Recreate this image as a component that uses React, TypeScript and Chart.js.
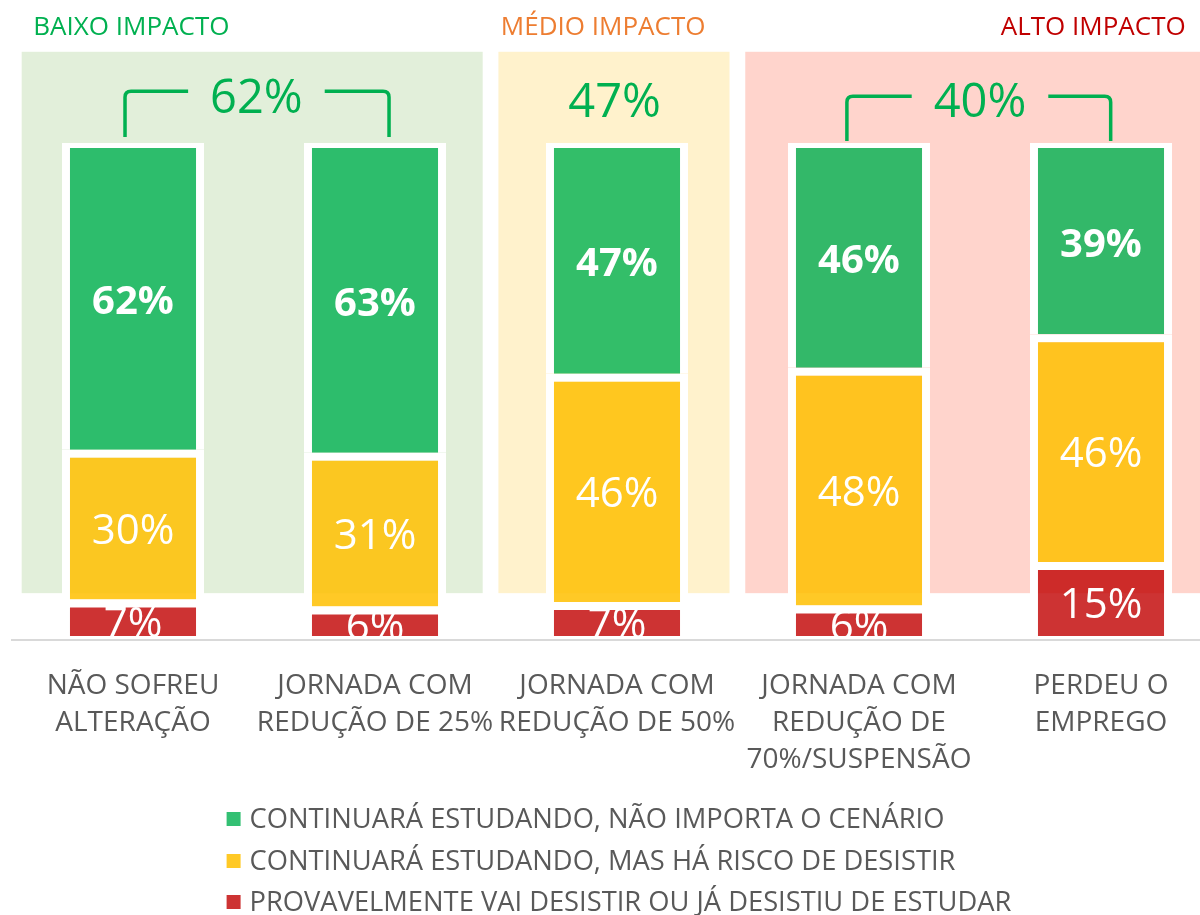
import React, { useEffect, useRef } from "react";
import { Chart, registerables } from "chart.js";

Chart.register(...registerables);

// ---------- data ----------
const categories: string[][] = [
  ["NÃO SOFREU", "ALTERAÇÃO"],
  ["JORNADA COM", "REDUÇÃO DE 25%"],
  ["JORNADA COM", "REDUÇÃO DE 50%"],
  ["JORNADA COM", "REDUÇÃO DE", "70%/SUSPENSÃO"],
  ["PERDEU O", "EMPREGO"],
];
const seriesNames = [
  "CONTINUARÁ ESTUDANDO, NÃO IMPORTA O CENÁRIO",
  "CONTINUARÁ ESTUDANDO, MAS HÁ RISCO DE DESISTIR",
  "PROVAVELMENTE VAI DESISTIR OU JÁ DESISTIU DE ESTUDAR",
];
const continuaValues = [62.2, 62.8, 46.8, 45.6, 38.8];
const riscoValues = [30.4, 31.2, 46.3, 48.2, 46.2];
const desistirValues = [7.4, 6.0, 6.9, 6.2, 15.0];

const groupTitles = ["BAIXO IMPACTO", "MÉDIO IMPACTO", "ALTO IMPACTO"];
const groupTotals = [62, 47, 40];
// group spans in category-index units
const groupStart = [-0.46, 1.51, 2.53];
const groupEnd = [1.445, 2.465, 4.8];
const bracketFrom = [-0.033, null, 2.95];
const bracketTo = [1.058, null, 4.04];
const totalCenter = [0.51, 1.99, 3.5];

// ---------- styles ----------
const FONT = "'Open Sans', 'Noto Sans', sans-serif";
const GREEN = "rgba(0,176,80,0.8)";
const YELLOW = "rgba(255,192,0,0.85)";
const RED = "rgba(192,0,0,0.8)";
const groupBg = ["#E2EFDA", "#FFF2CC", "#FFD4CC"];
const groupColor = ["#00B050", "#ED7D31", "#C00000"];
const TOTAL_COLOR = "#00B050";
const TEXT_GRAY = "#595959";

function catPx(scale: any, v: number) {
  const p0 = scale.getPixelForValue(0);
  const p1 = scale.getPixelForValue(1);
  return p0 + v * (p1 - p0);
}

const regionsPlugin = {
  id: "regions",
  beforeDatasetsDraw(chart: any) {
    const { ctx, scales } = chart;
    const x = scales.x;
    const y = scales.y;
    ctx.save();
    for (let g = 0; g < groupTitles.length; g++) {
      const x0 = catPx(x, groupStart[g]);
      const x1 = catPx(x, groupEnd[g]);
      const y0 = y.getPixelForValue(118.5);
      const y1 = y.getPixelForValue(8.7);
      ctx.fillStyle = groupBg[g];
      ctx.fillRect(x0, y0, x1 - x0, y1 - y0);
    }
    ctx.restore();
  },
};

const topBorders = [8, 8, 5];

const valueLabelsPlugin = {
  id: "valueLabels",
  afterDatasetsDraw(chart: any) {
    const { ctx, chartArea, scales } = chart;
    const zero = scales.y.getPixelForValue(0);
    ctx.save();
    ctx.beginPath();
    ctx.rect(chartArea.left, 0, chartArea.right - chartArea.left, zero);
    ctx.clip();
    ctx.fillStyle = "#ffffff";
    ctx.textAlign = "center";
    ctx.textBaseline = "middle";
    chart.data.datasets.forEach((ds: any, di: number) => {
      const meta = chart.getDatasetMeta(di);
      ctx.font = di === 2 ? `bold 40px ${FONT}` : `42px ${FONT}`;
      meta.data.forEach((el: any, i: number) => {
        const { x, y, base } = el.getProps(["x", "y", "base"], true);
        const top = y + topBorders[di];
        const cy = (top + base) / 2;
        ctx.fillText(Math.round(ds.data[i]) + "%", x, cy + (di === 2 ? 4 : 3));
      });
    });
    ctx.restore();
  },
};

const annotationsPlugin = {
  id: "annotations",
  afterDraw(chart: any) {
    const { ctx, scales } = chart;
    const x = scales.x;
    const y = scales.y;
    ctx.save();
    // group titles
    ctx.font = `26px ${FONT}`;
    ctx.textBaseline = "alphabetic";
    const titleY = y.getPixelForValue(118.5) - 17;
    const titleAnchors = [-0.412, 1.52, 4.35];
    const titleAlign = ["left", "left", "right"];
    for (let g = 0; g < groupTitles.length; g++) {
      ctx.fillStyle = groupColor[g];
      ctx.textAlign = titleAlign[g];
      ctx.fillText(groupTitles[g], catPx(x, titleAnchors[g]), titleY);
    }
    // totals + brackets
    ctx.font = `47px ${FONT}`;
    ctx.textAlign = "center";
    ctx.fillStyle = TOTAL_COLOR;
    ctx.strokeStyle = TOTAL_COLOR;
    ctx.lineWidth = 3.5;
    ctx.lineJoin = "round";
    for (let g = 0; g < groupTotals.length; g++) {
      const text = groupTotals[g] + "%";
      const cx = catPx(x, totalCenter[g]);
      const hasBracket = bracketFrom[g] !== null;
      const baseline = y.getPixelForValue(hasBracket && g === 0 ? 106.1 : 105.3);
      ctx.fillText(text, cx, baseline);
      if (hasBracket) {
        const w = ctx.measureText(text).width;
        const bx0 = catPx(x, bracketFrom[g] as number);
        const bx1 = catPx(x, bracketTo[g] as number);
        const hy = y.getPixelForValue(g === 0 ? 110.5 : 109.5);
        const vy = y.getPixelForValue(g === 0 ? 101.2 : 100.4);
        const gap = 22;
        const r = 6;
        ctx.beginPath();
        ctx.moveTo(bx0, vy);
        ctx.lineTo(bx0, hy + r);
        ctx.quadraticCurveTo(bx0, hy, bx0 + r, hy);
        ctx.lineTo(cx - w / 2 - gap, hy);
        ctx.stroke();
        ctx.beginPath();
        ctx.moveTo(cx + w / 2 + gap, hy);
        ctx.lineTo(bx1 - r, hy);
        ctx.quadraticCurveTo(bx1, hy, bx1, hy + r);
        ctx.lineTo(bx1, vy);
        ctx.stroke();
      }
    }
    ctx.restore();
  },
};

const legendPlugin = {
  id: "customLegend",
  afterDraw(chart: any) {
    const { ctx, chartArea } = chart;
    ctx.save();
    ctx.font = `27.3px ${FONT}`;
    const order = [2, 1, 0];
    const box = 14;
    const gap = 9;
    let maxW = 0;
    order.forEach((di) => {
      maxW = Math.max(maxW, ctx.measureText(chart.data.datasets[di].label).width);
    });
    const blockW = box + gap + maxW;
    const startX = (chartArea.left + chartArea.right) / 2 - blockW / 2 + 2;
    const rowY = [chartArea.bottom + 179, chartArea.bottom + 221, chartArea.bottom + 262];
    order.forEach((di, k) => {
      const ds = chart.data.datasets[di];
      const cy = rowY[k];
      ctx.fillStyle = "#ffffff";
      ctx.fillRect(startX, cy - box / 2, box, box);
      ctx.fillStyle = ds.backgroundColor;
      ctx.fillRect(startX, cy - box / 2, box, box);
      ctx.fillStyle = TEXT_GRAY;
      ctx.textAlign = "left";
      ctx.textBaseline = "middle";
      ctx.fillText(ds.label, startX + box + gap, cy + 1);
    });
    ctx.restore();
  },
};

export default function App() {
  const canvasRef = useRef<HTMLCanvasElement | null>(null);

  useEffect(() => {
    if (!canvasRef.current) return;
    Chart.defaults.font.family = FONT;
    const chart = new Chart(canvasRef.current, {
      type: "bar",
      data: {
        labels: categories,
        datasets: [
          {
            label: seriesNames[2],
            data: desistirValues,
            backgroundColor: RED,
            borderColor: "#ffffff",
            borderSkipped: false,
            borderWidth: { top: topBorders[0], left: 8, right: 8, bottom: 0 },
          },
          {
            label: seriesNames[1],
            data: riscoValues,
            backgroundColor: YELLOW,
            borderColor: "#ffffff",
            borderSkipped: false,
            borderWidth: { top: topBorders[1], left: 8, right: 8, bottom: 0 },
          },
          {
            label: seriesNames[0],
            data: continuaValues,
            backgroundColor: GREEN,
            borderColor: "#ffffff",
            borderSkipped: false,
            borderWidth: { top: topBorders[2], left: 8, right: 8, bottom: 0 },
          },
        ],
      },
      options: {
        responsive: false,
        animation: false,
        layout: { padding: { top: 143, left: 12, right: 18, bottom: 0 } },
        datasets: { bar: { categoryPercentage: 1, barPercentage: 0.587 } },
        plugins: {
          legend: { display: false },
          tooltip: { enabled: false },
        },
        scales: {
          x: {
            stacked: true,
            grid: { display: false, drawTicks: false },
            border: { display: true, color: "#D9D9D9", width: 2 },
            ticks: {
              autoSkip: false,
              maxRotation: 0,
              minRotation: 0,
              color: TEXT_GRAY,
              padding: 27,
              font: { family: FONT, size: 28, lineHeight: 1.33 },
            },
            afterFit: (scale: any) => {
              scale.height = 275;
            },
          },
          y: {
            stacked: true,
            display: false,
            min: -0.8,
            max: 100,
          },
        },
      },
      plugins: [regionsPlugin, valueLabelsPlugin, annotationsPlugin, legendPlugin],
    });
    return () => chart.destroy();
  }, []);

  return (
    <div
      style={{
        position: "fixed",
        left: 0,
        top: 0,
        width: 1200,
        height: 915,
        overflow: "hidden",
        background: "#ffffff",
      }}
    >
      <canvas ref={canvasRef} width={1240} height={915} style={{ display: "block" }} />
    </div>
  );
}
